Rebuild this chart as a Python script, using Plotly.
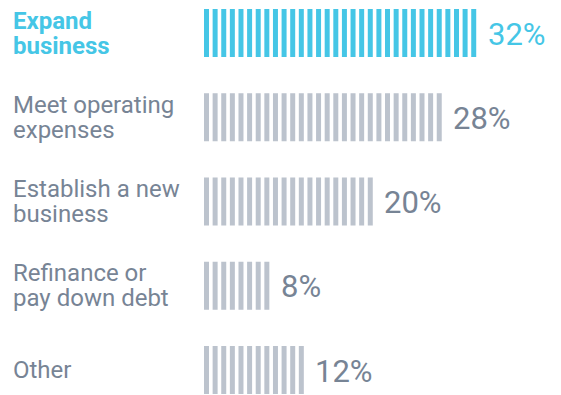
import plotly.graph_objects as go

categories = ["Expand business", "Meet operating expenses", "Establish a new business",
              "Refinance or pay down debt", "Other"]
label_lines = [["Expand", "business"], ["Meet operating", "expenses"], ["Establish a new", "business"],
               ["Refinance or", "pay down debt"], ["Other"]]
values = [32, 28, 20, 8, 12]
highlight = [True, False, False, False, False]

BLUE = "#45c6e6"
GREY_BAR = "#bcc3cd"
GREY_TXT = "#778495"

fig = go.Figure()
for i, (cat, v) in enumerate(zip(categories, values)):
    col = BLUE if highlight[i] else GREY_BAR
    fig.add_trace(go.Bar(
        y=[cat] * v, x=[0.58] * v, base=list(range(v)), orientation="h",
        marker=dict(color=col, line=dict(width=0)), width=0.57,
        hoverinfo="skip", showlegend=False))

annotations = []
for i, (cat, v, lines) in enumerate(zip(categories, values, label_lines)):
    tcol = BLUE if highlight[i] else GREY_TXT
    fam = "Roboto"
    txt_lines = [f"<b>{l}</b>" if highlight[i] else l for l in lines]
    txt = "<br>".join(f"<span style='font-size:24px'>{l}</span>" for l in txt_lines)
    annotations.append(dict(x=14 / 561, xref="paper", y=cat, yref="y", text=txt,
                            xanchor="left", yanchor="middle", align="left", showarrow=False,
                            borderpad=0, xshift=-2, yshift=0,
                            font=dict(family=fam, size=19.2, color=tcol)))
    annotations.append(dict(x=v, xref="x", y=cat, yref="y", text=f"{v}%",
                            xanchor="left", yanchor="middle", showarrow=False,
                            xshift=6, yshift=-1, font=dict(family=fam, size=31, color=tcol)))

p = 8.62
fig.update_layout(
    width=561, height=395, margin=dict(l=0, r=0, t=0, b=0),
    paper_bgcolor="white", plot_bgcolor="white", barmode="overlay",
    xaxis=dict(range=[-204 / p, (561 - 204) / p], visible=False, fixedrange=True),
    yaxis=dict(range=[(395 - 33) / 84.25, -33 / 84.25], visible=False,
               categoryorder="array", categoryarray=categories, fixedrange=True),
    annotations=annotations,
)
fig.write_html("out.html")
